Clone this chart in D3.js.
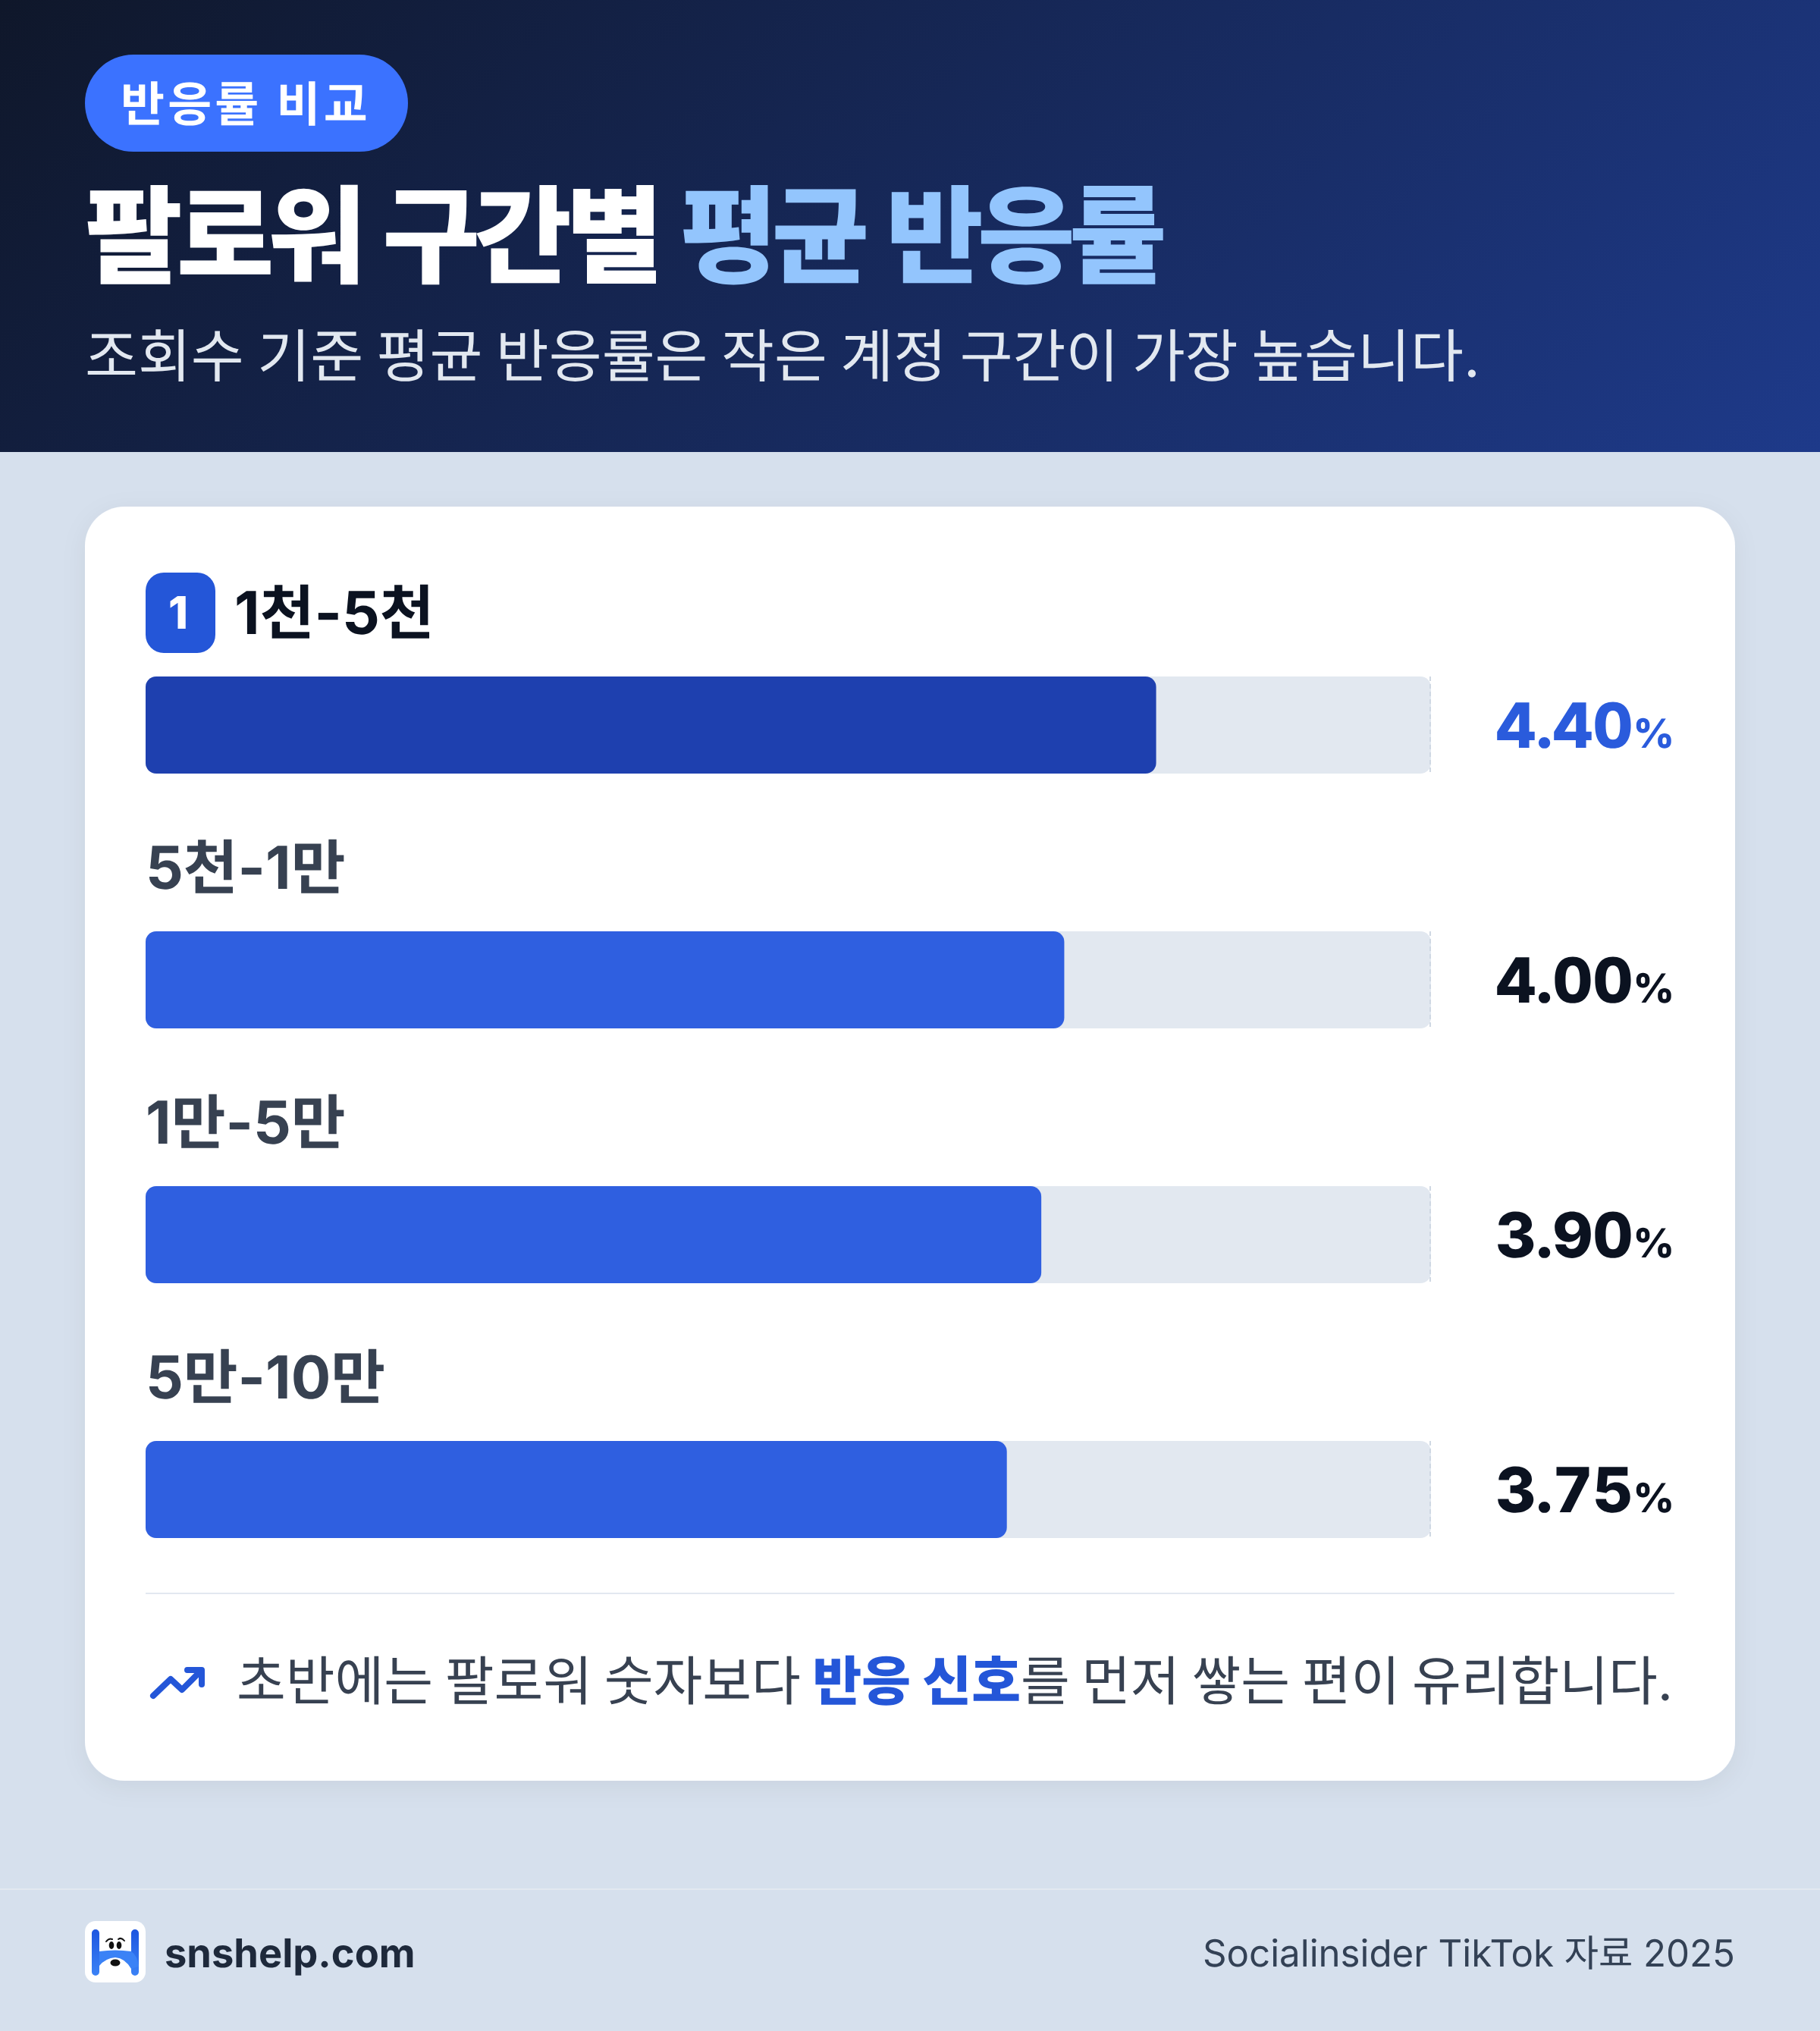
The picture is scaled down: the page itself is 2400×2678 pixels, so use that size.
<!DOCTYPE html>
<html><head><meta charset="utf-8">
<script src="https://cdn.jsdelivr.net/npm/d3@7"></script>
<style>
html,body{margin:0;padding:0;background:#d6e0ed}
svg{display:block}
text{font-family:Inter,"Noto Sans CJK KR","Noto Sans",sans-serif;text-rendering:geometricPrecision}
</style></head><body>
<script>
const categories = ["1천-5천","5천-1만","1만-5만","5만-10만"];
const values = [4.40,4.00,3.90,3.75];
const valueLabels = ["4.40","4.00","3.90","3.75"];
const titleParts = ["팔로워 구간별 ","평균 반응률"];
const noteParts = ["초반에는 팔로워 숫자보다 ","반응 신호","를 먼저 쌓는 편이 유리합니다."];
const W=2400,H=2678;
const svg=d3.select("body").append("svg").attr("width",W).attr("height",H).attr("viewBox",`0 0 ${W} ${H}`);
const defs=svg.append("defs");
const hg=defs.append("linearGradient").attr("id","hg").attr("gradientUnits","userSpaceOnUse")
 .attr("x1",451).attr("y1",-451).attr("x2",1949).attr("y2",1047);
hg.append("stop").attr("offset",0).attr("stop-color","#0f172a");
hg.append("stop").attr("offset",1).attr("stop-color","#1e3a8a");
const lg=defs.append("linearGradient").attr("id","lg").attr("x1",0).attr("y1",0).attr("x2",0).attr("y2",1);
lg.append("stop").attr("offset",0).attr("stop-color","#1d56e0");
lg.append("stop").attr("offset",1).attr("stop-color","#3b82f6");
const sh=defs.append("filter").attr("id","sh").attr("x","-5%").attr("y","-5%").attr("width","110%").attr("height","110%");
sh.append("feDropShadow").attr("dx",0).attr("dy",8).attr("stdDeviation",16).attr("flood-color","#0f172a").attr("flood-opacity",0.06);

svg.append("rect").attr("width",W).attr("height",H).attr("fill","#d6e0ed");
svg.append("rect").attr("width",W).attr("height",596).attr("fill","url(#hg)");
svg.append("rect").attr("x",112).attr("y",72).attr("width",426).attr("height",128).attr("rx",64).attr("fill","#3b72ff");
svg.append("text").attr("x",159).attr("y",160).attr("font-size",63).attr("font-weight",700).attr("letter-spacing",4.2).attr("fill","#fff").text("반응률 비교");
const t=svg.append("text").attr("x",112).attr("y",362).attr("font-size",140).attr("font-weight",900).attr("letter-spacing",-8).attr("word-spacing",10);
t.append("tspan").attr("fill","#fff").text(titleParts[0]);
t.append("tspan").attr("fill","#93c5fd").text(titleParts[1]);
svg.append("text").attr("x",112).attr("y",497).attr("font-size",76).attr("font-weight",400).attr("word-spacing",-3.9).attr("fill","#e2e8f0").text("조회수 기준 평균 반응률은 작은 계정 구간이 가장 높습니다.");

svg.append("rect").attr("x",112).attr("y",668).attr("width",2176).attr("height",1680).attr("rx",52).attr("fill","#fff").attr("filter","url(#sh)");

const x=d3.scaleLinear().domain([0,5.6]).range([192,1888]);
const y=d3.scaleBand().domain(categories).range([892,2028]).paddingInner(208/336);
const colorBar=i=>i===0?"#1e40af":"#2f5fe0";
const trackEnd=x(5.6)-1;
const rows=svg.selectAll("g.row").data(categories).join("g").attr("class","row");
rows.append("rect").attr("x",x(0)).attr("y",d=>y(d)).attr("width",trackEnd-x(0)).attr("height",y.bandwidth()).attr("rx",14).attr("fill","#e2e8f0");
rows.append("line").attr("x1",trackEnd-1).attr("x2",trackEnd-1).attr("y1",d=>y(d)).attr("y2",d=>y(d)+y.bandwidth()).attr("stroke","#cfd8e3").attr("stroke-width",2).attr("stroke-dasharray","6 4");
rows.append("rect").attr("x",x(0)).attr("y",d=>y(d)).attr("width",(d,i)=>x(values[i])-x(0)).attr("height",y.bandwidth()).attr("rx",14).attr("fill",(d,i)=>colorBar(i));
rows.append("text").attr("x",(d,i)=>i===0?309:192).attr("y",d=>y(d)-56).attr("font-size",78).attr("font-weight",700).attr("fill",(d,i)=>i===0?"#0b1220":"#374151").text(d=>d);
const vt=rows.append("text").attr("x",2208).attr("y",d=>y(d)+94).attr("text-anchor","end").attr("fill",(d,i)=>i===0?"#2a5bdc":"#0b1220").attr("font-weight",800).style("font-feature-settings",'"tnum"');
vt.append("tspan").attr("font-size",82).attr("letter-spacing",0).text((d,i)=>valueLabels[i]);
vt.append("tspan").attr("font-size",53).text("%");
svg.append("rect").attr("x",192).attr("y",755).attr("width",92).attr("height",106).attr("rx",24).attr("fill","#2456d8");
svg.append("text").attr("x",235).attr("y",829).attr("text-anchor","middle").attr("font-size",59).attr("font-weight",800).attr("fill","#fff").text("1");

svg.append("line").attr("x1",192).attr("x2",2208).attr("y1",2101).attr("y2",2101).attr("stroke","#e2e8f0").attr("stroke-width",2);
svg.append("path").attr("d","M202,2236L225,2214L240,2228L264,2204").attr("fill","none").attr("stroke","#2456d8").attr("stroke-width",8).attr("stroke-linecap","round").attr("stroke-linejoin","round");
svg.append("path").attr("d","M247,2202L266,2202L266,2221").attr("fill","none").attr("stroke","#2456d8").attr("stroke-width",8).attr("stroke-linecap","round").attr("stroke-linejoin","round");
const n=svg.append("text").attr("x",312).attr("y",2242).attr("font-size",70.4).attr("word-spacing",-4.1).attr("fill","#374151");
n.append("tspan").text(noteParts[0]);
n.append("tspan").attr("fill","#2456d8").attr("font-weight",800).attr("word-spacing",0).text(noteParts[1]);
n.append("tspan").text(noteParts[2]);

svg.append("line").attr("x1",0).attr("x2",W).attr("y1",2491).attr("y2",2491).attr("stroke","#e2e8f0").attr("stroke-width",2);
const lgo=svg.append("g");
lgo.append("rect").attr("x",112).attr("y",2533).attr("width",80).attr("height",81).attr("rx",14).attr("fill","#fff");
lgo.append("path").attr("d","M121,2549a5,5 0 0 1 10,0V2600a5,5 0 0 1 -10,0Z M173,2549a5,5 0 0 1 10,0V2600a5,5 0 0 1 -10,0Z").attr("fill","url(#lg)");
lgo.append("path").attr("d","M131,2573Q152,2570 173,2573Q181,2578 183,2593L173,2596Q165,2582 152,2581Q139,2582 131,2592Z").attr("fill","#3b82f6");
lgo.selectAll("ellipse.eye").data([147,157]).join("ellipse").attr("class","eye").attr("cx",d=>d).attr("cy",2565).attr("rx",3.3).attr("ry",5).attr("fill","#111");
lgo.append("ellipse").attr("cx",152).attr("cy",2588).attr("rx",6.5).attr("ry",4.5).attr("fill","#111");
lgo.append("path").attr("d","M140,2560Q144,2555 148,2557M156,2557Q160,2554 164,2559").attr("fill","none").attr("stroke","#111").attr("stroke-width",2).attr("stroke-linecap","round");
svg.append("text").attr("x",217).attr("y",2594).attr("font-size",52.4).attr("font-weight",700).attr("fill","#1e293b").text("snshelp.com");
svg.append("text").attr("x",2288).attr("y",2593).attr("text-anchor","end").attr("font-size",49.2).attr("fill","#334155").text("Socialinsider TikTok 자료 2025");
</script></body></html>
